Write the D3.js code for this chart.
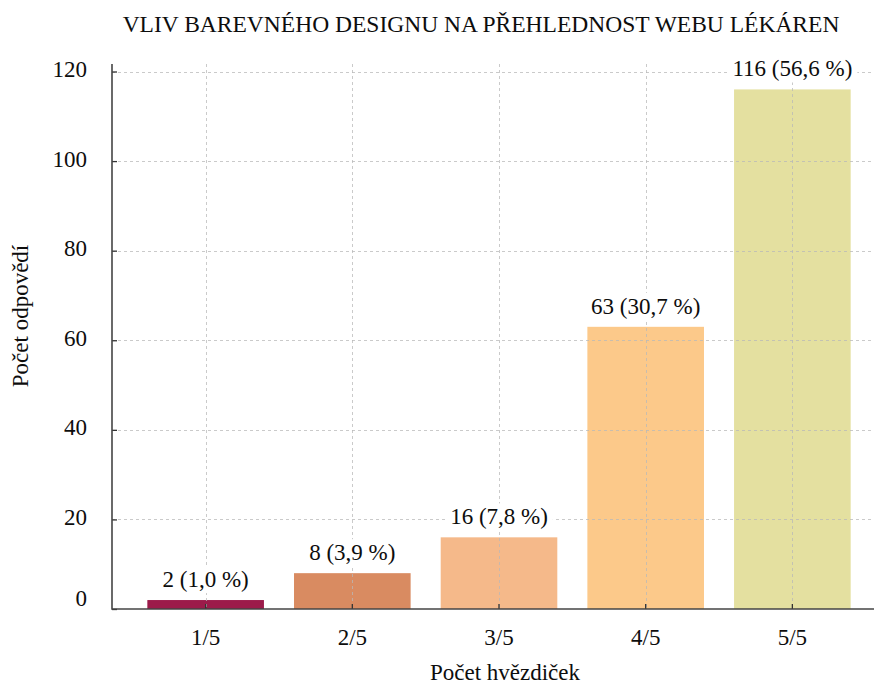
<!DOCTYPE html>
<html>
<head>
<meta charset="utf-8">
<script src="https://cdn.jsdelivr.net/npm/d3@7"></script>
<style>
  html, body { margin: 0; padding: 0; background: #fff; }
  svg { display: block; font-family: "Liberation Serif", "Times New Roman", serif; }
</style>
</head>
<body>
<svg id="chart" width="874" height="688"></svg>
<script>
// Ratings and number of answers
const categories = ["1/5", "2/5", "3/5", "4/5", "5/5"];
const counts = [2, 8, 16, 63, 116];
const shares = ["1,0", "3,9", "7,8", "30,7", "56,6"];
const barColors = ["#9c1b4a", "#d98b61", "#f5b98a", "#fcc98a", "#e4e0a0"];
const yTicks = [0, 20, 40, 60, 80, 100, 120];

const titleText = "VLIV BAREVNÉHO DESIGNU NA PŘEHLEDNOST WEBU LÉKÁREN";
const xTitle = "Počet hvězdiček";
const yTitle = "Počet odpovědí";

const svg = d3.select("#chart");
const plotLeft = 112, plotBottom = 609, plotTop = 64, plotRight = 874;
const fontSize = 23;
const textColor = "#0d0d0d";

const x = d3.scaleBand()
  .domain(categories)
  .range([132.3, 865.7])
  .paddingInner(0.205)
  .paddingOuter(0.1025);

const y = d3.scaleLinear().domain([0, 120]).range([plotBottom, 71.5]);

// bars
svg.append("g").selectAll("rect")
  .data(categories)
  .join("rect")
  .attr("x", d => x(d))
  .attr("width", x.bandwidth())
  .attr("y", (d, i) => y(counts[i]))
  .attr("height", (d, i) => y(0) - y(counts[i]))
  .attr("fill", (d, i) => barColors[i]);

// dashed grid drawn over the bars
const grid = svg.append("g")
  .attr("stroke", "#b8b8b8")
  .attr("stroke-opacity", 0.75)
  .attr("stroke-width", 1)
  .attr("stroke-dasharray", "3,3");
grid.selectAll("line.h")
  .data(yTicks.filter(t => t > 0))
  .join("line")
  .attr("class", "h")
  .attr("x1", plotLeft).attr("x2", plotRight)
  .attr("y1", d => Math.round(y(d)) + 0.5)
  .attr("y2", d => Math.round(y(d)) + 0.5);
grid.selectAll("line.v")
  .data(categories)
  .join("line")
  .attr("class", "v")
  .attr("x1", d => Math.round(x(d) + x.bandwidth() / 2) + 0.5)
  .attr("x2", d => Math.round(x(d) + x.bandwidth() / 2) + 0.5)
  .attr("y1", plotTop).attr("y2", plotBottom);

// axes with inward ticks
const yAxis = d3.axisLeft(y).tickValues(yTicks).tickSize(-5).tickPadding(25);
const yg = svg.append("g").attr("transform", `translate(${plotLeft},0)`).call(yAxis);
yg.select(".domain").remove();
yg.selectAll(".tick line").attr("stroke", "#333").attr("stroke-width", 1.3);
yg.selectAll(".tick text")
  .attr("font-family", "Liberation Serif, serif")
  .attr("font-size", fontSize)
  .attr("fill", textColor)
  .attr("dy", "0.28em")
  .attr("y", d => d === 0 ? -10 : -1.5);

const xAxis = d3.axisBottom(x).tickSize(-5).tickPadding(20);
const xg = svg.append("g").attr("transform", `translate(0,${plotBottom})`).call(xAxis);
xg.select(".domain").remove();
xg.selectAll(".tick line").attr("stroke", "#333").attr("stroke-width", 1.3);
xg.selectAll(".tick text")
  .attr("font-family", "Liberation Serif, serif")
  .attr("font-size", fontSize)
  .attr("fill", textColor);

// axis lines
svg.append("line")
  .attr("x1", plotLeft).attr("x2", plotLeft).attr("y1", plotTop).attr("y2", plotBottom + 0.75)
  .attr("stroke", "#444").attr("stroke-width", 1.6);
svg.append("line")
  .attr("x1", plotLeft).attr("x2", plotRight).attr("y1", plotBottom).attr("y2", plotBottom)
  .attr("stroke", "#444").attr("stroke-width", 1.6);

// value labels on white boxes
const labels = svg.append("g").selectAll("g")
  .data(categories)
  .join("g")
  .attr("transform", (d, i) => `translate(${x(d) + x.bandwidth() / 2},${y(counts[i]) - 21})`);
labels.append("text")
  .attr("text-anchor", "middle")
  .attr("dy", "0.35em")
  .attr("font-size", fontSize)
  .attr("fill", textColor)
  .text((d, i) => `${counts[i]} (${shares[i]} %)`);
labels.each(function() {
  const g = d3.select(this);
  const bb = g.select("text").node().getBBox();
  g.insert("rect", "text")
    .attr("x", bb.x - 5).attr("y", bb.y - 1)
    .attr("width", bb.width + 10).attr("height", bb.height + 2)
    .attr("fill", "#fff");
});

// titles
svg.append("text")
  .attr("x", 481).attr("y", 32)
  .attr("text-anchor", "middle")
  .attr("font-size", 23.5)
  .attr("fill", textColor)
  .text(titleText);
svg.append("text")
  .attr("x", 505).attr("y", 680)
  .attr("text-anchor", "middle")
  .attr("font-size", fontSize)
  .attr("fill", textColor)
  .text(xTitle);
svg.append("text")
  .attr("transform", "translate(28,316) rotate(-90)")
  .attr("text-anchor", "middle")
  .attr("font-size", fontSize)
  .attr("fill", textColor)
  .text(yTitle);
</script>
</body>
</html>
